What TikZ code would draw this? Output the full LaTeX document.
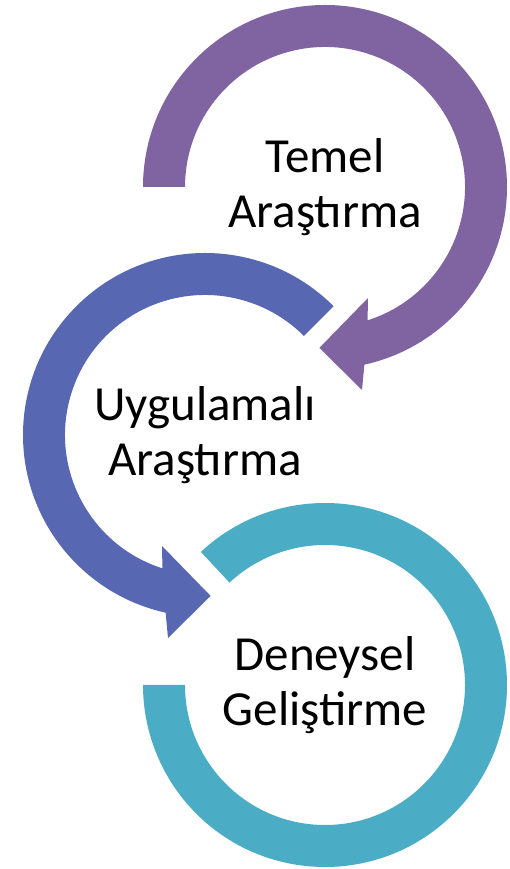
\documentclass[tikz,border=0pt]{standalone}
\usepackage{fontspec}
\setmainfont{Carlito}
\usetikzlibrary{positioning}
\definecolor{arrowpurple}{RGB}{128,100,162}
\definecolor{arrowblue}{RGB}{88,103,178}
\definecolor{arrowteal}{RGB}{75,172,198}
\tikzset{steplabel/.style={align=center, font=\fontsize{49}{55}\selectfont, inner sep=0pt}}

\begin{document}
\begin{tikzpicture}[x=1pt,y=1pt]
    \useasboundingbox (0,0) rectangle (510,869);

    % top ring: clockwise from the left, head points down-left
    \begin{scope}[shift={(325,682)}]
        \fill[arrowpurple] (180:182) arc[start angle=180, end angle=-77.5, radius=182]
            -- (37,-203) -- (-92:161) -- (43,-111)
            -- (-72.3:140) arc[start angle=-72.3, end angle=180, radius=140] -- cycle;
        \node[steplabel] (temel) at (0,0) {Temel\\Araştırma};
    \end{scope}

    % middle ring: counter-clockwise, head points down-right
    \begin{scope}[shift={(205,434)}]
        \fill[arrowblue] (45:182) arc[start angle=45, end angle=257.5, radius=182]
            -- (-37,-203) -- (-88:161) -- (-43,-111)
            -- (252.3:140) arc[start angle=252.3, end angle=45, radius=140] -- cycle;
        \node[steplabel] (uygulamali) at (0,0) {Uygulamalı\\Araştırma};
    \end{scope}

    % bottom ring: no head
    \begin{scope}[shift={(325,184)}]
        \fill[arrowteal] (133:182) arc[start angle=133, end angle=-180, radius=182]
            -- (180:140) arc[start angle=-180, end angle=133, radius=140] -- cycle;
        \node[steplabel] (deneysel) at (0,0) {Deneysel\\Geliştirme};
    \end{scope}
\end{tikzpicture}
\end{document}
